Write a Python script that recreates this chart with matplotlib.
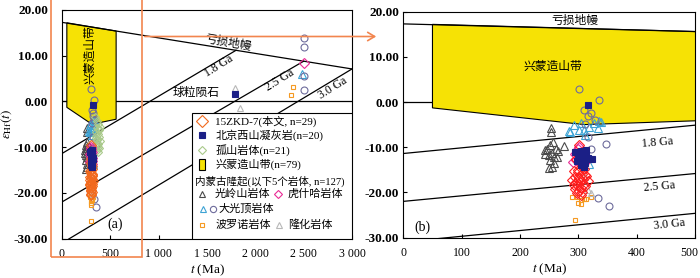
import numpy as np
import matplotlib
matplotlib.use("Agg")
import matplotlib.pyplot as plt
import matplotlib.transforms as mtrans
from matplotlib.patches import Polygon, Rectangle, FancyArrowPatch

plt.rcParams['font.family'] = ['Liberation Serif', 'Noto Sans CJK SC']
plt.rcParams['mathtext.fontset'] = 'stix'

# 亏损地幔 / 球粒陨石 / 地壳演化线
dm_t = [0, 3000]
dm_e = [17.3, 7.1]
crust_age = [1800, 2500, 3000]
crust_e0 = [-11.4, -22.0, -31.0]
crust_lab = ['1.8 Ga', '2.5 Ga', '3.0 Ga']

# 兴蒙造山带范围
poly_t = [50, 560, 560, 310, 50]
poly_e = [17.2, 15.4, -3.9, -5.0, -1.3]

# 15ZKD-7 (本文)
zkd_t = [301, 296, 304, 309, 292, 299, 306, 312, 294, 302, 308, 314, 290, 297, 303,
         310, 316, 293, 300, 305, 311, 295, 302, 307, 298, 304, 300, 306, 294]
zkd_e = [-9.5, -12.6, -13.4, -14.8, -15.3, -15.6, -15.9, -16.2, -16.5, -16.8, -17.0,
         -16.4, -17.3, -17.6, -17.8, -18.1, -17.4, -18.4, -18.7, -19.0, -18.6, -19.3,
         -19.6, -19.9, -20.2, -20.5, -15.0, -14.2, -18.0]
# 北京西山凝灰岩
bj_t = [316, 1790, 294, 299, 304, 306, 309, 312, 314, 302, 307, 311, 316, 319, 297,
        305, 310, 324, 313, 308]
bj_e = [-0.7, 1.6, -11.0, -11.5, -10.8, -12.0, -11.3, -12.5, -11.8, -12.8, -13.2,
        -13.6, -12.4, -12.6, -13.0, -14.0, -14.4, -12.6, -10.7, -11.9]
# 孤山岩体
gs_t = [345, 360, 375, 365, 385, 355, 370, 380, 350, 390, 362, 372, 358, 382, 366,
        376, 352, 388, 360, 370, 380]
gs_e = [-3.5, -4.2, -5.0, -5.8, -6.3, -6.8, -7.2, -7.7, -8.1, -8.6, -9.0, -9.4, -9.8,
        -10.2, -10.6, -11.0, -7.5, -5.5, -8.4, -10.0, -6.0]
# 光岭山岩体
gls_t = [254, 256, 246, 262, 243, 255, 266, 275, 252, 258, 249, 255, 259, 264, 249,
         243, 252, 254]
gls_e = [-6.7, -8.8, -10.3, -10.3, -11.4, -11.2, -10.8, -9.7, -12.8, -13.6, -14.7,
         -14.3, -12.1, -12.1, -11.7, -10.6, -9.5, -5.8]
# 虎什哈岩体
hsh_t = [302, 291, 294, 304, 309, 299, 314, 306, 296, 312, 2500]
hsh_e = [-10.0, -13.2, -11.5, -12.2, -11.0, -10.5, -13.0, -13.8, -12.8, -12.3, 8.3]
# 大光顶岩体 (三角 / 圆)
dgt_t = [292, 285, 304, 310, 318, 327, 335, 339, 333, 312, 301, 284, 318, 2480]
dgt_e = [-5.1, -6.6, -4.7, -6.2, -5.5, -4.6, -4.1, -4.4, -5.8, -7.3, -6.2, -6.4, -13.8, 6.0]
dgc_t = [302, 336, 321, 328, 309, 316, 312, 316, 347, 321, 333, 353, 2500, 2500, 2500, 2500]
dgc_e = [2.8, 0.4, -2.5, -4.0, -1.8, -3.2, -4.8, -7.8, -9.4, -10.4, -21.3, -23.0,
         13.8, 11.8, 5.6, 2.5]
# 波罗诺岩体
bln_t = [289, 297, 304, 304, 310, 314, 322, 295, 300, 2390, 2370]
bln_e = [-21.0, -21.0, -21.7, -22.6, -21.5, -21.5, -21.0, -26.1, -22.3, 3.1, 1.4]
# 隆化岩体
lh_t = [321, 316, 312, 1790, 1840]
lh_e = [-20.2, -19.5, -16.5, 3.0, -1.4]

c_zkd_a = '#F26A1E'
c_zkd_b = '#FF1E1E'
c_bj = '#1B1F86'
c_gs = '#A9C98A'
c_gls = '#4A4A4A'
c_hsh = '#EA2A95'
c_dgt = '#3DA3D4'
c_dgc = '#6E6C9C'
c_bln = '#F59A23'
c_lh = '#B8B8B8'
c_yel = '#F6E205'
c_ann = '#F2854E'

fig = plt.figure(figsize=(7, 2.78), dpi=100)
axL = fig.add_axes([62 / 700, 39.5 / 278, 290 / 700, 228.5 / 278])
axR = fig.add_axes([403.3 / 700, 40.5 / 278, 291.7 / 700, 225.8 / 278])


def base(ax, xmax):
    ax.set_xlim(0, xmax)
    ax.set_ylim(-30, 20)
    tt = np.array([0, xmax])
    ax.plot(tt, np.interp(tt, dm_t, dm_e), color='k', lw=0.9, zorder=2)
    ax.axhline(0, color='k', lw=0.9, zorder=1)
    for a, e0 in zip(crust_age, crust_e0):
        ax.plot([0, a], [e0, np.interp(a, dm_t, dm_e)], color='k', lw=0.9, zorder=2)
    ax.add_patch(Polygon(np.column_stack([poly_t, poly_e]), closed=True,
                         facecolor=c_yel, edgecolor='k', lw=0.8, zorder=1.5))
    ax.tick_params(direction='in', length=3, top=False, right=False, labelsize=8.5)
    ax.set_yticks([20, 10, 0, -10, -20, -30])
    ax.set_yticklabels(['20.00', '10.00', '0.00', '-10.00', '-20.00', '-30.00'],
                       fontsize=9.5, fontweight='bold')
    ax.set_xlabel(r'$t$ (Ma)', fontsize=9.5, labelpad=2)
    for s in ax.spines.values():
        s.set_linewidth(0.8)


def points(ax, zkd_color, show_gs):
    kw = dict(ls='none', mew=0.8)
    ax.plot(gls_t, gls_e, '^', ms=5.5, mfc='none', mec=c_gls, zorder=3, **kw)
    ax.plot(dgt_t, dgt_e, '^', ms=5.5, mfc='none', mec=c_dgt, zorder=3, **kw)
    ax.plot(dgc_t, dgc_e, 'o', ms=5, mfc='none', mec=c_dgc, zorder=3, **kw)
    ax.plot(bln_t, bln_e, 's', ms=3, mfc='none', mec=c_bln, zorder=3, **kw)
    ax.plot(lh_t, lh_e, '^', ms=4, mfc='none', mec=c_lh, zorder=3, **kw)
    if show_gs:
        ax.plot(gs_t, gs_e, 'D', ms=4.5, mfc='none', mec=c_gs, zorder=3, **kw)
    ax.plot(hsh_t, hsh_e, 'D', ms=5, mfc='none', mec=c_hsh, zorder=4, **kw)
    ax.plot(zkd_t, zkd_e, 'D', ms=5, mfc='none', mec=zkd_color, zorder=4, **kw)
    ax.plot(bj_t, bj_e, 's', ms=3.8, mfc=c_bj, mec=c_bj, zorder=5, **kw)


# ---- (a)
base(axL, 3000)
points(axL, c_zkd_a, True)
axL.set_xticks([0, 500, 1000, 1500, 2000, 2500, 3000])
axL.set_xticklabels(['0', '500', '1 000', '1 500', '2 000', '2 500', '3 000'])
axL.tick_params(axis='y', pad=10)
axL.tick_params(axis='x', pad=7)
axL.set_ylabel(r'$\varepsilon_{\mathrm{Hf}}(t)$', fontsize=9.5)
axL.yaxis.set_label_coords(-0.165, 0.5)
axL.text(1717, 12.8, '亏损地幔', fontsize=8.5, rotation=-10, ha='center', va='center')
axL.text(1386, 0.5, '球粒陨石', fontsize=8.5, ha='center', va='bottom')
for lab, x, y in zip(crust_lab, [1624, 2254, 2802], [7.7, 4.7, 2.9]):
    axL.text(x, y, lab, fontsize=8.5, rotation=32, ha='center', va='center')
axL.text(290, 10.2, '兴蒙造山带', fontsize=8.5, rotation=90, ha='center', va='center')
axL.text(548, -26.8, '(a)', fontsize=10, ha='center', va='center')

# legend box
T = axL.transAxes
axL.add_patch(Rectangle((0.448, 0), 0.552, 0.549, transform=T, facecolor='white',
                        edgecolor='k', lw=0.8, zorder=6))
lk = dict(transform=T, ls='none', zorder=7, clip_on=False, mew=0.8)
tk = dict(transform=T, fontsize=8, va='center', zorder=7)
axL.plot(0.483, 0.514, 'D', ms=6, mfc='none', mec=c_zkd_a, **lk)
axL.text(0.528, 0.514, '15ZKD-7(本文, n=29)', **tk)
axL.plot(0.483, 0.453, 's', ms=3.8, mfc=c_bj, mec=c_bj, **lk)
axL.text(0.528, 0.453, '北京西山凝灰岩(n=20)', **tk)
axL.plot(0.483, 0.387, 'D', ms=4.5, mfc='none', mec=c_gs, **lk)
axL.text(0.528, 0.387, '孤山岩体(n=21)', **tk)
axL.add_patch(Rectangle((0.474, 0.300), 0.018, 0.050, transform=T, facecolor=c_yel,
                        edgecolor='k', lw=0.8, zorder=7))
axL.text(0.528, 0.326, '兴蒙造山带(n=79)', **tk)
axL.text(0.459, 0.252, '内蒙古隆起(以下5个岩体, n=127)', transform=T, fontsize=7.6,
         va='center', zorder=7)
axL.plot(0.483, 0.195, '^', ms=5, mfc='none', mec=c_gls, **lk)
axL.text(0.528, 0.195, '光岭山岩体', **tk)
axL.plot(0.745, 0.195, 'D', ms=4.5, mfc='none', mec=c_hsh, **lk)
axL.text(0.779, 0.195, '虎什哈岩体', **tk)
axL.plot(0.486, 0.129, '^', ms=5, mfc='none', mec=c_dgt, **lk)
axL.plot(0.521, 0.129, 'o', ms=4.5, mfc='none', mec=c_dgc, **lk)
axL.text(0.540, 0.129, '大光顶岩体', **tk)
axL.plot(0.483, 0.059, 's', ms=3.5, mfc='none', mec=c_bln, **lk)
axL.text(0.528, 0.059, '波罗诺岩体', **tk)
axL.plot(0.748, 0.059, '^', ms=4, mfc='none', mec=c_lh, **lk)
axL.text(0.779, 0.059, '隆化岩体', **tk)

# ---- (b)
base(axR, 500)
points(axR, c_zkd_b, False)
axR.set_xticks([0, 100, 200, 300, 400, 500])
axR.tick_params(axis='y', pad=3)
axR.tick_params(axis='x', pad=7)
last = axR.get_xticklabels()[-1]
last.set_transform(last.get_transform() + mtrans.ScaledTranslation(-6 / 100, 0, fig.dpi_scale_trans))
axR.text(294, 17.9, '亏损地幔', fontsize=8.5, ha='center', va='center')
axR.text(256, 7.8, '兴蒙造山带', fontsize=8.5, ha='center', va='center')
for lab, x, y, r in zip(crust_lab, [436, 439, 456], [-8.9, -18.8, -27.2], [5, 5, 6]):
    axR.text(x, y, lab, fontsize=8.5, rotation=r, ha='center', va='center')
axR.text(32, -27.7, '(b)', fontsize=10, ha='center', va='center')

# 放大框与箭头
fig.add_artist(Rectangle((51.5 / 700, 20.7 / 278), 90.5 / 700, 1.0, transform=fig.transFigure,
                         facecolor='none', edgecolor=c_ann, lw=1.2, clip_on=False))
fig.add_artist(FancyArrowPatch((142 / 700, 1 - 36.5 / 278), (379 / 700, 1 - 36.5 / 278),
                               transform=fig.transFigure, arrowstyle='->,head_length=5,head_width=3',
                               color=c_ann, lw=1.2))

fig.savefig('out.png', dpi=100)
